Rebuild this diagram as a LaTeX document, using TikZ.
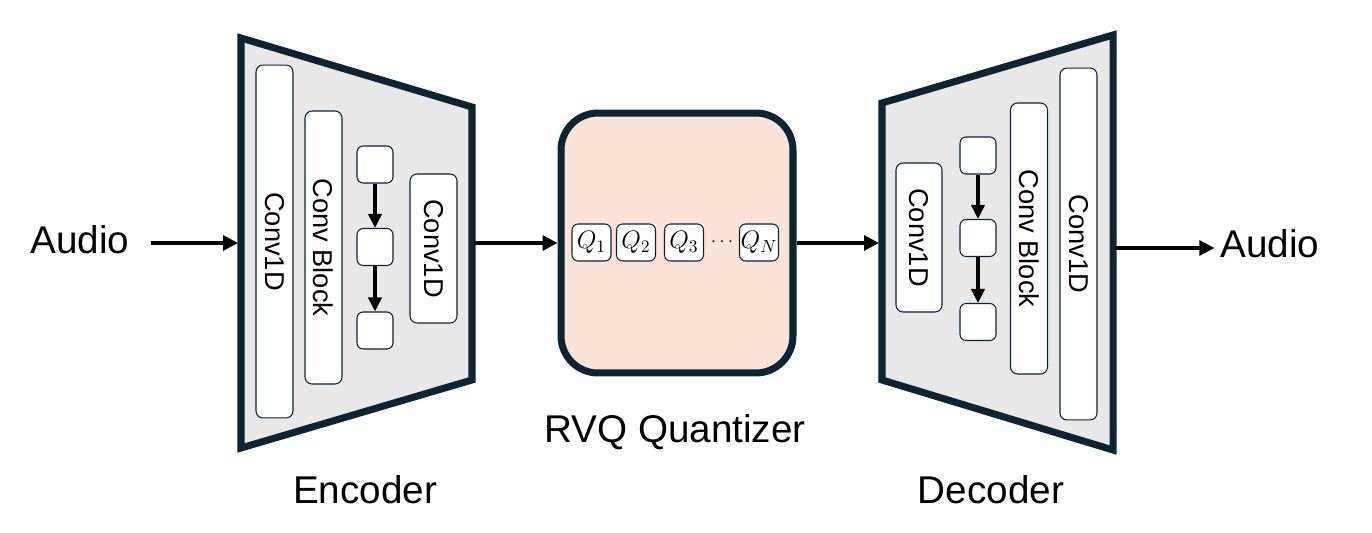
\documentclass[tikz,border=0pt]{standalone}
\usepackage{fontspec}
\setmainfont{Liberation Sans}
\usetikzlibrary{arrows.meta}
\definecolor{frame}{HTML}{0C2434}
\definecolor{shell}{HTML}{E8E8E8}
\definecolor{peach}{HTML}{FBE3D6}
\tikzset{
  codec/.style={draw=frame, fill=shell, line width=4pt},
  quant/.style={draw=frame, fill=peach, line width=4pt, rounded corners=0.74cm,
    minimum width=4.64cm, minimum height=5.2cm},
  box/.style={draw=frame, fill=white, line width=0.6pt, inner sep=0},
  bar/.style={box, rounded corners=4pt, rotate=-90, minimum height=0.74cm,
    font=\fontsize{15.5}{18}\selectfont},
  cell/.style={box, rounded corners=3.5pt, minimum width=0.72cm, minimum height=0.74cm},
  qcell/.style={box, rounded corners=3.5pt, minimum width=0.78cm, minimum height=0.74cm,
    font=\fontsize{14}{16}\selectfont},
  flow/.style={-{Triangle[length=8.5pt,width=8.5pt]}, line width=1.8pt},
  link/.style={-{Triangle[length=8pt,width=7.5pt]}, line width=1.9pt},
  caption/.style={font=\fontsize{22}{26}\selectfont}
}
\newcommand\Stack[5]{% three linked cells: name, x, y1, y2, y3
  \node (#1a) [cell] at (#2,#3) {};
  \node (#1b) [cell] at (#2,#4) {};
  \node (#1c) [cell] at (#2,#5) {};
  \draw [link] (#1a) -- (#1b);
  \draw [link] (#1b) -- (#1c);
}

\begin{document}
\begin{tikzpicture}[x=0.02cm, y=-0.02cm]
    \useasboundingbox (0,0) rectangle (1372,533);
    % encoder
    \draw [codec] (241,38) -- (472,107) -- (472,380) -- (241,448) -- cycle;
    \node (enc1) [bar, minimum width=7.06cm] at (274.5,241.5) {Conv1D};
    \node (enc2) [bar, minimum width=5.46cm] at (323.5,247.5) {Conv Block};
    \Stack{ec}{375}{164.5}{247}{330.5}
    \node (enc3) [bar, minimum width=2.98cm, minimum height=0.94cm] at (433.5,248.5) {Conv1D};
    \coordinate (encin) at (238,243);
    \coordinate (encout) at (474,243);
    % quantizer
    \node (rvq) [quant] at (677,243) {};
    \node (q1) [qcell] at (591.5,242.5) {$Q_1$};
    \node (q2) [qcell] at (636,242.5) {$Q_2$};
    \node (q3) [qcell] at (684,242.5) {$Q_3$};
    \node (qdots) [inner sep=0, font=\fontsize{11}{13}\selectfont] at (722,242.5) {$\cdots$};
    \node (qn) [qcell] at (759,242.5) {$Q_N$};
    % decoder
    \draw [codec] (882,103) -- (1113,35) -- (1113,450) -- (882,380) -- cycle;
    \node (dec1) [bar, minimum width=2.98cm, minimum height=0.92cm] at (919,237.5) {Conv1D};
    \Stack{dc}{978}{155.5}{238}{322}
    \node (dec2) [bar, minimum width=5.42cm] at (1029,238.5) {Conv Block};
    \node (dec3) [bar, minimum width=7.04cm] at (1078.5,244) {Conv1D};
    \coordinate (decin) at (879,243);
    \coordinate (decout) at (1115,248);
    % in and out
    \node (ain) [caption] at (80,240) {Audio};
    \node (aout) [caption] at (1270,244) {Audio};
    \draw [flow, shorten <=0.3cm] (ain.east |- encin) -- (encin);
    \draw [flow] (encout) -- (rvq);
    \draw [flow] (rvq) -- (decin);
    \draw [flow] (decout) -- (aout.west |- decout);
    % names
    \node (encname) [caption] at (365,490) {Encoder};
    \node (rvqname) [caption] at (675,432) {RVQ Quantizer};
    \node (decname) [caption] at (991,490) {Decoder};
\end{tikzpicture}
\end{document}
